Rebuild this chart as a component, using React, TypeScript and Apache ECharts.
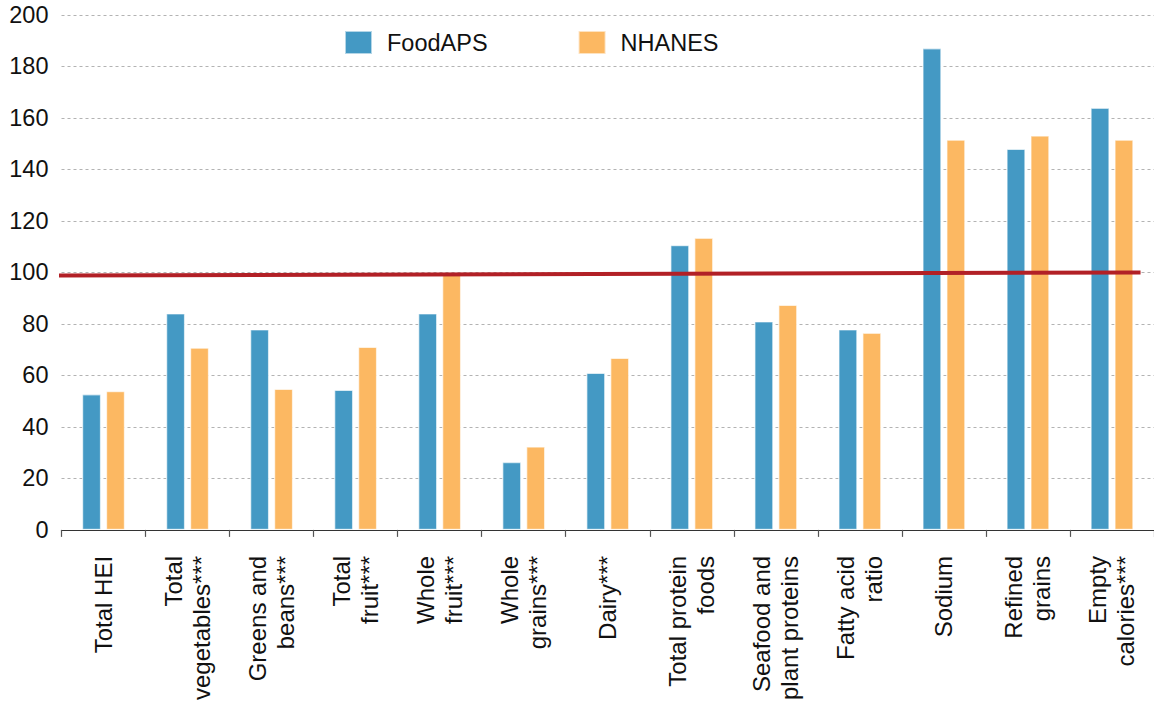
import React, { useEffect, useRef } from "react";
import * as echarts from "echarts";

const categories = [
  "Total HEI",
  "Total\nvegetables***",
  "Greens and\nbeans***",
  "Total\nfruit***",
  "Whole\nfruit***",
  "Whole\ngrains***",
  "Dairy***",
  "Total protein\nfoods",
  "Seafood and\nplant proteins",
  "Fatty acid\nratio",
  "Sodium",
  "Refined\ngrains",
  "Empty\ncalories***",
];

const foodAPS = [52.7, 84.1, 77.9, 54.4, 84.1, 26.4, 61.0, 110.6, 81.0, 77.9, 187.1, 148.0, 164.0];
const nhanes = [53.9, 70.8, 54.8, 71.1, 99.2, 32.4, 66.8, 113.5, 87.4, 76.6, 151.6, 153.2, 151.6];

const refLineX = [-0.1, 12.84];
const refLineY = [98.8, 100];

const yMin = 0;
const yMax = 200;
const yStep = 20;

const FONT = "'Liberation Sans', Arial, Helvetica, sans-serif";

export default function App() {
  const ref = useRef<HTMLDivElement>(null);

  useEffect(() => {
    if (!ref.current) return;
    const chart = echarts.init(ref.current, null, { renderer: "svg" });
    chart.setOption({
      animation: false,
      backgroundColor: "#ffffff",
      textStyle: { fontFamily: FONT },
      legend: {
        left: 344,
        top: 30,
        padding: 0,
        itemWidth: 27,
        itemHeight: 23,
        itemGap: 90,
        icon: "rect",
        textStyle: { fontSize: 23.5, color: "#111", fontFamily: FONT, padding: [0, 0, 0, 10] },
        data: ["FoodAPS", "NHANES"],
      },
      grid: { left: 61.5, top: 15, width: 1097, height: 517 },
      xAxis: [
        {
          type: "category",
          data: categories,
          axisLine: { lineStyle: { color: "#333", width: 1.2 } },
          axisTick: { show: true, length: 7, lineStyle: { color: "#555", width: 1.2 } },
          axisLabel: {
            rotate: 90,
            interval: 0,
            margin: 26,
            fontSize: 24,
            lineHeight: 28,
            color: "#111",
            fontFamily: FONT,
            align: "right",
          },
        },
        {
          type: "value",
          min: 0,
          max: 13,
          show: false,
        },
      ],
      yAxis: {
        type: "value",
        min: yMin,
        max: yMax,
        interval: yStep,
        axisLine: { show: false },
        axisTick: { show: false },
        axisLabel: { fontSize: 23.5, color: "#111", margin: 13, fontFamily: FONT },
        splitLine: { lineStyle: { color: "#b3b3b3", type: [3, 3], width: 1.2 } },
      },
      series: [
        {
          name: "FoodAPS",
          type: "bar",
          data: foodAPS,
          barWidth: 19,
          barGap: "26%",
          itemStyle: { color: "#4499c4", borderColor: "rgba(255,255,255,0.6)", borderWidth: 1.2 },
        },
        {
          name: "NHANES",
          type: "bar",
          data: nhanes,
          barWidth: 19,
          barGap: "26%",
          itemStyle: { color: "#fcb862", borderColor: "rgba(255,255,255,0.6)", borderWidth: 1.2 },
        },
        {
          name: "ref",
          type: "line",
          xAxisIndex: 1,
          data: refLineX.map((x, i) => [x, refLineY[i]]),
          symbol: "none",
          clip: false,
          z: 5,
          lineStyle: { color: "#b22026", width: 4 },
        },
      ],
    });
    return () => chart.dispose();
  }, []);

  return (
    <div
      ref={ref}
      style={{ position: "fixed", left: 0, top: 0, width: 1154, height: 703 }}
    />
  );
}
